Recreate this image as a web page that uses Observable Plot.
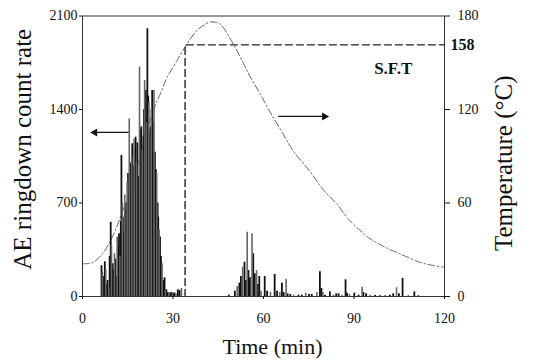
<!DOCTYPE html>
<html><head><meta charset="utf-8">
<script src="https://cdn.jsdelivr.net/npm/d3@7"></script>
<script src="https://cdn.jsdelivr.net/npm/@observablehq/plot@0.6"></script>
<style>
body{margin:0;background:#fff;}
#chart svg{display:block;}
</style></head><body><div id="chart"></div>
<script>
// AE ringdown count rate bars (time in min, count rate)
const barTime = [6.3,6.6,7.0,7.4,7.7,8.0,8.3,8.7,9.0,9.35,9.6,10.0,10.3,10.6,10.9,11.2,11.5,11.8,12.1,12.4,12.7,12.9,13.2,13.4,13.7,14.0,14.3,14.5,14.8,15.1,15.3,15.5,15.8,16.0,16.3,16.5,16.8,17.1,17.4,17.6,17.9,18.2,18.5,18.9,19.2,19.5,19.8,20.2,20.4,20.6,20.8,21.0,21.2,21.5,21.8,22.0,22.3,22.6,22.8,23.1,23.4,23.7,24.0,24.3,24.6,24.9,25.1,25.4,25.7,26.0,26.4,26.8,27.2,27.5,27.8,28.2,28.6,29.0,29.4,29.8,30.2,30.5,31.0,31.6,32.2,32.8,
  48.5,50.5,51.3,52.0,52.5,53.1,53.7,54.2,54.6,55.0,55.5,56.2,56.6,57.1,57.7,58.1,58.6,59.2,60.4,61.2,62.3,63.7,64.5,65.4,66.1,66.7,67.5,68.0,68.9,70.0,71.6,72.7,74.0,75.1,76.0,77.7,78.7,79.2,79.7,80.4,82.0,83.2,84.1,84.9,86.0,87.2,87.7,88.5,90.1,91.5,92.7,93.1,94.0,95.3,97.0,98.6,100.3,101.9,103.0,104.1,104.9,106.1,108.0,110.0,111.3];
const barCount = [230,180,150,260,200,90,120,60,300,556,380,245,200,320,280,150,444,380,470,300,560,1056,700,594,480,760,650,700,850,920,780,1330,1000,920,1050,1143,980,1180,1100,1193,1000,1150,900,1717,1250,1270,1100,1200,1400,1617,1350,1542,1300,2004,1500,1450,1250,1270,1400,1542,1300,1542,1080,950,920,700,594,500,445,300,245,120,140,40,50,30,30,25,30,30,25,25,20,50,45,60,
  10,40,75,100,150,220,257,120,481,195,140,469,320,170,195,90,150,40,150,40,30,165,40,30,100,30,130,20,15,10,10,10,25,15,15,30,185,60,30,10,35,10,20,20,10,125,25,15,25,10,70,30,20,10,8,6,8,10,20,65,20,135,8,35,5];

// Temperature curve (time in min, °C)
const tempTime  = [0,2,4,6.6,8.5,10.4,12,13.75,15.4,17.5,20,22,24,26,28.1,31.4,34.7,38,40.5,42.4,44,45.7,50,53.4,55.6,58.9,62,66,70,75.5,80,84.3,88,92,95.3,100,105.2,111.8,116.2,120];
const tempValue = [21,21.2,22.5,27.4,33,40.3,48,57.3,63.8,78,96,110,122,131,140.8,151.6,162.3,170.8,174.5,176.2,176,174.7,162,149.4,141,130,119,106,93,80,68,59.5,50,42.4,37.1,32,27.4,22,19.9,18.8];

// Axes
const xTicks = [0,30,60,90,120];
const leftTicks = [0,700,1400,2100];
const rightTicks = [0,60,120,180];
const countMax = 2100, tempMax = 180;

// S.F.T annotation
const sftTime = 34, sftLevel = 161.5, sftLabel = "158", sftText = "S.F.T";
const sftTextPos = {t: 103, temp: 146};
// direction arrows: [from time, to time, count level]
const arrowFrom = [15.3, 64.9];
const arrowTo = [4.1, 80.2];
const arrowLevel = [1228, 1348];

const k = countMax / tempMax;
const bars = barTime.map((t, i) => ({t, v: barCount[i], i}));
const temps = tempTime.map((t, i) => ({t, T: tempValue[i]}));
const sftPath = [{t: sftTime, T: 0}, {t: sftTime, T: sftLevel}, {t: 120, T: sftLevel}];
const arrows = arrowFrom.map((x1, i) => ({x1, x2: arrowTo[i], y: arrowLevel[i], dir: arrowTo[i] < x1 ? -90 : 90}));

const plot = Plot.plot({
  width: 534, height: 360,
  marginLeft: 82, marginRight: 90, marginTop: 15.5, marginBottom: 64,
  style: {fontFamily: "'Liberation Serif', 'Times New Roman', serif", fontSize: "14px", background: "#fff", color: "#111"},
  x: {domain: [0, 120], axis: null},
  y: {domain: [0, countMax], axis: null},
  marks: [
    Plot.line(temps, {x: "t", y: d => d.T * k, curve: "catmull-rom", stroke: "#555", strokeWidth: 0.9, strokeDasharray: "7,2.5,1.5,2.5"}),
    Plot.ruleX(bars, {filter: d => d.i % 3 !== 1, x: "t", y1: 0, y2: "v", stroke: "#111", strokeWidth: 1.8}),
    Plot.ruleX(bars, {filter: d => d.i % 3 === 1, x: "t", y1: 0, y2: "v", stroke: "#666", strokeWidth: 1.6}),
    Plot.line(sftPath, {x: "t", y: d => d.T * k, stroke: "#222", strokeWidth: 1.4, strokeDasharray: "7,4"}),
    Plot.frame({stroke: "#333", strokeWidth: 1}),
    Plot.axisX(xTicks, {tickSize: 3, tickPadding: 14, label: null, tickFormat: d => String(d)}),
    Plot.axisY(leftTicks, {anchor: "left", tickSize: 3, tickPadding: 2, label: null, tickFormat: d => String(d)}),
    Plot.axisY(rightTicks.map(t => t * k), {anchor: "right", tickSize: 5, tickPadding: 8, label: null, tickFormat: d => String(Math.round(d / k))}),
    Plot.text([sftLabel], {x: 120, y: sftLevel * k, text: d => d, textAnchor: "start", dx: 6, fontWeight: "bold", fontSize: 16}),
    Plot.text([sftText], {x: sftTextPos.t, y: sftTextPos.temp * k, text: d => d, fontWeight: "bold", fontSize: 17}),
    Plot.link(arrows, {x1: "x1", x2: "x2", y1: "y", y2: "y", stroke: "#111", strokeWidth: 1.3}),
    Plot.dot(arrows, {x: "x2", y: "y", symbol: "triangle", r: 3, fill: "#111", stroke: "none", rotate: "dir"}),
    Plot.text(["AE ringdown count rate"], {frameAnchor: "left", textAnchor: "middle", text: d => d, rotate: -90, dx: -60, dy: -7, fontSize: 25}),
    Plot.text(["Temperature (°C)"], {frameAnchor: "right", textAnchor: "middle", text: d => d, rotate: -90, dx: 59, dy: 7, fontSize: 25}),
    Plot.text(["Time (min)"], {frameAnchor: "bottom", text: d => d, lineAnchor: "bottom", dx: 9, dy: 57, fontSize: 22})
  ]
});
document.getElementById("chart").appendChild(plot);
</script></body></html>
